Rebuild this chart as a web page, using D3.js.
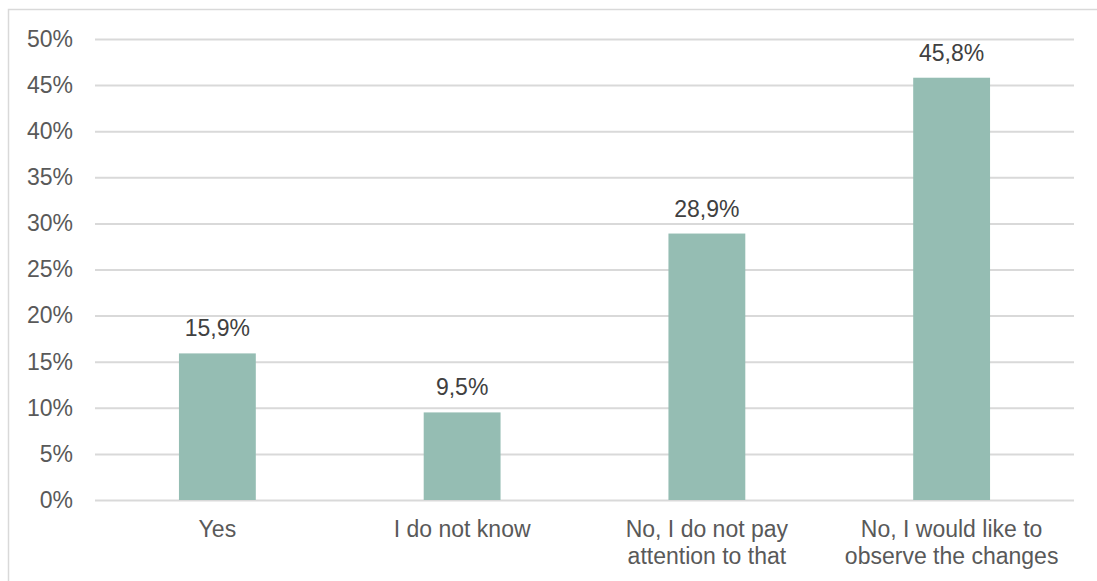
<!DOCTYPE html>
<html>
<head>
<meta charset="utf-8">
<script src="https://cdn.jsdelivr.net/npm/d3@7"></script>
<style>
  html, body { margin: 0; padding: 0; background: #fff; }
  svg { display: block; font-family: "Liberation Sans", Arial, sans-serif; }
</style>
</head>
<body>
<svg id="chart" width="1097" height="581"></svg>
<script>
// Survey answers and their shares (%)
const categories = [
  ["Yes"],
  ["I do not know"],
  ["No, I do not pay", "attention to that"],
  ["No, I would like to", "observe the changes"]
];
const values = [15.9, 9.5, 28.9, 45.8];
const yTicks = [0, 5, 10, 15, 20, 25, 30, 35, 40, 45, 50];

const svg = d3.select("#chart");
const W = 1097, H = 581;
const margin = { left: 95, right: 23, top: 39, bottom: 81 };
const plotW = W - margin.left - margin.right;
const plotH = H - margin.top - margin.bottom;

// chart area frame
svg.append("rect")
  .attr("x", 8.5).attr("y", 9.5)
  .attr("width", W + 10).attr("height", H + 10)
  .attr("fill", "none").attr("stroke", "#d9d9d9").attr("stroke-width", 1.5);

const g = svg.append("g").attr("transform", `translate(${margin.left},${margin.top})`);

const x = d3.scaleBand().domain(d3.range(categories.length)).range([0, plotW]).paddingInner(0).paddingOuter(0);
const y = d3.scaleLinear().domain([0, 50]).range([plotH, 0]);
const fmt = v => d3.format(".1f")(v).replace(".", ",") + "%";

// gridlines
const yAxis = d3.axisLeft(y).tickValues(yTicks).tickSize(-plotW).tickPadding(22).tickFormat(d => d + "%");
const ga = g.append("g").call(yAxis);
ga.select(".domain").remove();
ga.selectAll(".tick line").attr("stroke", "#d9d9d9").attr("stroke-width", 2);
ga.selectAll(".tick text")
  .attr("fill", "#595959").attr("font-size", 23)
  .attr("font-family", "Liberation Sans, Arial, sans-serif");

// bars
const barW = x.bandwidth() * 0.314;
g.selectAll("rect.bar").data(values).join("rect")
  .attr("class", "bar")
  .attr("x", (d, i) => x(i) + x.bandwidth() / 2 - barW / 2)
  .attr("y", d => y(d))
  .attr("width", barW)
  .attr("height", d => plotH - y(d))
  .attr("fill", "#95bdb3");

// value labels
g.selectAll("text.val").data(values).join("text")
  .attr("class", "val")
  .attr("x", (d, i) => x(i) + x.bandwidth() / 2)
  .attr("y", d => y(d) - 17)
  .attr("text-anchor", "middle")
  .attr("fill", "#404040").attr("font-size", 23)
  .text(d => fmt(d));

// category labels
const cat = g.selectAll("text.cat").data(categories).join("text")
  .attr("class", "cat")
  .attr("text-anchor", "middle")
  .attr("fill", "#595959").attr("font-size", 23)
  .attr("transform", (d, i) => `translate(${x(i) + x.bandwidth() / 2},${plotH + 37})`);
cat.selectAll("tspan").data(d => d).join("tspan")
  .attr("x", 0).attr("dy", (d, j) => j === 0 ? 0 : 27)
  .text(d => d);
</script>
</body>
</html>
